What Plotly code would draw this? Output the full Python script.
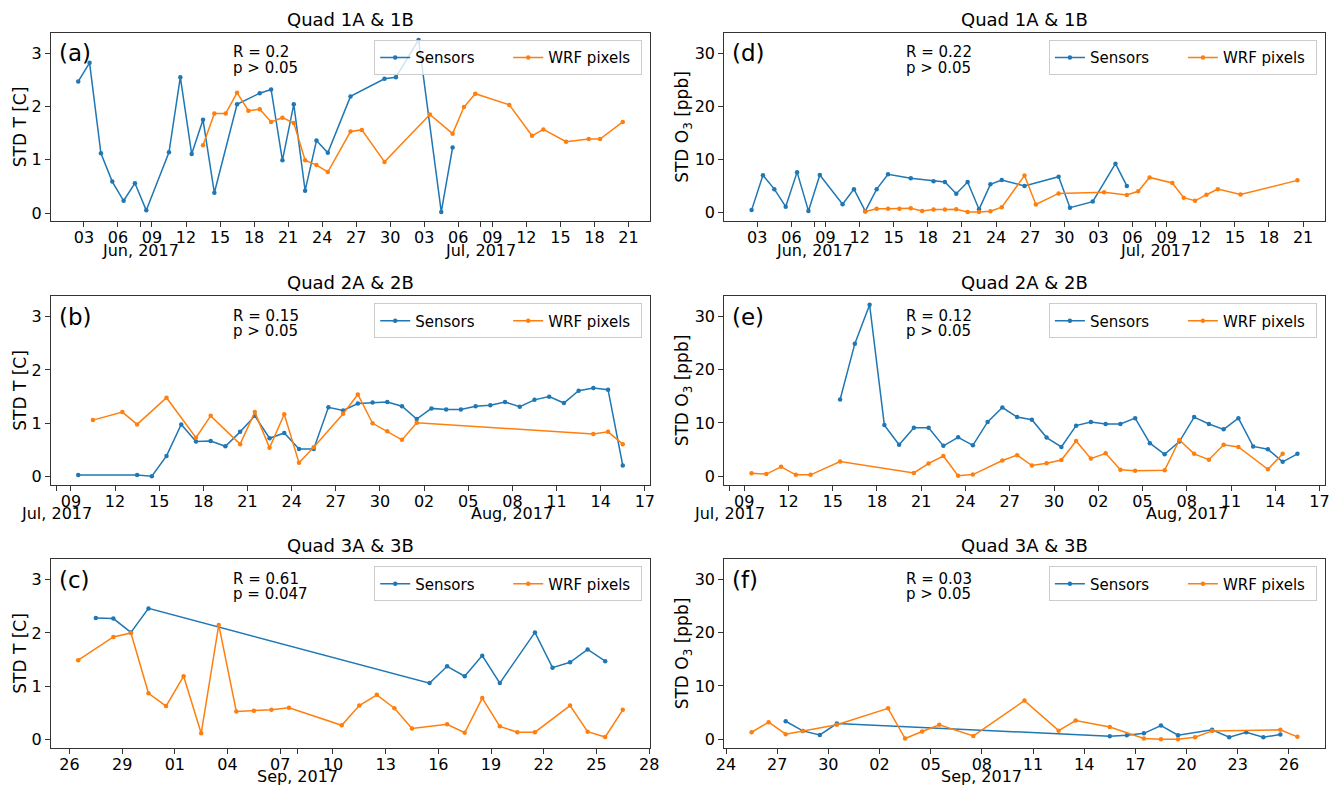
import pandas as pd
import plotly.graph_objects as go

YEAR = 2017

# ---------------- data (daily values, observed at noon) ----------------
# (a) Quad 1A & 1B, STD T [C]
a_sens_days = ["06-02", "06-03", "06-04", "06-05", "06-06", "06-07", "06-08", "06-10", "06-11", "06-12",
               "06-13", "06-14", "06-16", "06-18", "06-19", "06-20", "06-21", "06-22", "06-23", "06-24",
               "06-26", "06-29", "06-30", "07-02", "07-04", "07-05"]
a_sens_vals = [2.47, 2.82, 1.12, 0.59, 0.23, 0.56, 0.05, 1.14, 2.55, 1.11,
               1.75, 0.38, 2.04, 2.25, 2.32, 0.99, 2.04, 0.42, 1.36, 1.13,
               2.19, 2.52, 2.55, 3.25, 0.02, 1.23]
a_wrf_days = ["06-13", "06-14", "06-15", "06-16", "06-17", "06-18", "06-19", "06-20", "06-21", "06-22",
              "06-23", "06-24", "06-26", "06-27", "06-29", "07-03", "07-05", "07-06", "07-07", "07-10",
              "07-12", "07-13", "07-15", "07-17", "07-18", "07-20"]
a_wrf_vals = [1.27, 1.87, 1.87, 2.26, 1.92, 1.95, 1.71, 1.79, 1.69, 0.99,
              0.90, 0.77, 1.53, 1.56, 0.96, 1.85, 1.49, 1.99, 2.24, 2.03,
              1.45, 1.57, 1.34, 1.39, 1.39, 1.71]

# (d) Quad 1A & 1B, STD O3 [ppb]
d_sens_days = a_sens_days
d_sens_vals = [0.45, 7.0, 4.4, 1.1, 7.6, 0.3, 7.05, 1.55, 4.4, 0.25,
               4.4, 7.2, 6.45, 5.9, 5.75, 3.55, 5.75, 0.6, 5.3, 6.1,
               5.0, 6.75, 0.9, 2.05, 9.2, 5.0]
d_wrf_days = ["06-12", "06-13", "06-14", "06-15", "06-16", "06-17", "06-18", "06-19", "06-20", "06-21",
              "06-22", "06-23", "06-24", "06-26", "06-27", "06-29", "07-03", "07-05", "07-06", "07-07",
              "07-09", "07-10", "07-11", "07-12", "07-13", "07-15", "07-20"]
d_wrf_vals = [0.2, 0.7, 0.7, 0.7, 0.8, 0.3, 0.55, 0.55, 0.6, 0.1,
              0.1, 0.25, 1.0, 6.95, 1.5, 3.6, 3.8, 3.3, 4.0, 6.6,
              5.55, 2.8, 2.2, 3.35, 4.4, 3.4, 6.05]

# (b) Quad 2A & 2B, STD T [C]
b_sens_days = ["07-09", "07-13", "07-14", "07-15", "07-16", "07-17", "07-18", "07-19", "07-20", "07-21",
               "07-22", "07-23", "07-24", "07-25", "07-26", "07-27", "07-28", "07-29", "07-30", "07-31",
               "08-01", "08-02", "08-03", "08-04", "08-05", "08-06", "08-07", "08-08", "08-09", "08-10",
               "08-11", "08-12", "08-13", "08-14", "08-15"]
b_sens_vals = [0.03, 0.03, 0.01, 0.39, 0.98, 0.66, 0.67, 0.57, 0.84, 1.14,
               0.72, 0.82, 0.52, 0.52, 1.30, 1.24, 1.37, 1.39, 1.40, 1.32,
               1.08, 1.28, 1.26, 1.26, 1.32, 1.34, 1.40, 1.31, 1.44, 1.50,
               1.38, 1.61, 1.66, 1.63, 0.21]
b_wrf_days = ["07-10", "07-12", "07-13", "07-15", "07-17", "07-18", "07-20", "07-21", "07-22", "07-23",
              "07-24", "07-25", "07-27", "07-28", "07-29", "07-30", "07-31", "08-01", "08-13", "08-14",
              "08-15"]
b_wrf_vals = [1.06, 1.21, 0.98, 1.48, 0.73, 1.14, 0.61, 1.21, 0.54, 1.17,
              0.26, 0.55, 1.18, 1.54, 1.00, 0.85, 0.69, 1.01, 0.80, 0.84,
              0.61]

# (e) Quad 2A & 2B, STD O3 [ppb]
e_sens_days = ["07-15", "07-16", "07-17", "07-18", "07-19", "07-20", "07-21", "07-22", "07-23", "07-24",
               "07-25", "07-26", "07-27", "07-28", "07-29", "07-30", "07-31", "08-01", "08-02", "08-03",
               "08-04", "08-05", "08-06", "08-07", "08-08", "08-09", "08-10", "08-11", "08-12", "08-13",
               "08-14", "08-15"]
e_sens_vals = [14.4, 24.9, 32.2, 9.6, 5.9, 9.1, 9.1, 5.7, 7.3, 5.8,
               10.2, 12.9, 11.1, 10.6, 7.25, 5.5, 9.5, 10.2, 9.8, 9.8,
               10.9, 6.2, 4.1, 6.5, 11.1, 9.8, 8.8, 10.9, 5.6, 5.05,
               2.7, 4.2]
e_wrf_days = ["07-09", "07-10", "07-11", "07-12", "07-13", "07-15", "07-20", "07-21", "07-22", "07-23",
              "07-24", "07-26", "07-27", "07-28", "07-29", "07-30", "07-31", "08-01", "08-02", "08-03",
              "08-04", "08-06", "08-07", "08-08", "08-09", "08-10", "08-11", "08-13", "08-14"]
e_wrf_vals = [0.55, 0.4, 1.75, 0.25, 0.25, 2.75, 0.6, 2.4, 3.8, 0.1,
              0.3, 2.95, 3.95, 2.0, 2.45, 3.05, 6.6, 3.3, 4.3, 1.2,
              1.0, 1.1, 6.8, 4.2, 3.1, 5.9, 5.5, 1.3, 4.2]

# (c) Quad 3A & 3B, STD T [C]
c_sens_days = ["08-27", "08-28", "08-29", "08-30", "09-15", "09-16", "09-17", "09-18", "09-19", "09-21",
               "09-22", "09-23", "09-24", "09-25"]
c_sens_vals = [2.28, 2.27, 2.01, 2.46, 1.06, 1.375, 1.19, 1.575, 1.06, 2.01,
               1.35, 1.45, 1.69, 1.47]
c_wrf_days = ["08-26", "08-28", "08-29", "08-30", "08-31", "09-01", "09-02", "09-03", "09-04", "09-05",
              "09-06", "09-07", "09-10", "09-11", "09-12", "09-13", "09-14", "09-16", "09-17", "09-18",
              "09-19", "09-20", "09-21", "09-23", "09-24", "09-25", "09-26"]
c_wrf_vals = [1.49, 1.925, 2.0, 0.87, 0.63, 1.19, 0.12, 2.15, 0.53, 0.54,
              0.56, 0.60, 0.27, 0.64, 0.84, 0.59, 0.21, 0.29, 0.13, 0.78,
              0.25, 0.14, 0.14, 0.64, 0.15, 0.05, 0.56]

# (f) Quad 3A & 3B, STD O3 [ppb]
f_sens_days = ["08-27", "08-28", "08-29", "08-30", "09-15", "09-16", "09-17", "09-18", "09-19", "09-21",
               "09-22", "09-23", "09-24", "09-25"]
f_sens_vals = [3.37, 1.56, 0.8, 2.94, 0.56, 0.75, 1.1, 2.56, 0.75, 1.75,
               0.37, 1.3, 0.37, 0.87]
f_wrf_days = ["08-25", "08-26", "08-27", "08-28", "08-30", "09-02", "09-03", "09-04", "09-05", "09-07",
              "09-10", "09-12", "09-13", "09-15", "09-17", "09-18", "09-19", "09-20", "09-21", "09-25",
              "09-26"]
f_wrf_vals = [1.3, 3.2, 0.94, 1.56, 2.7, 5.8, 0.12, 1.44, 2.7, 0.62,
              7.25, 1.6, 3.5, 2.3, 0.12, 0.0, 0.0, 0.37, 1.56, 1.75,
              0.44]

# panel texts
panel_labels = ["(a)", "(d)", "(b)", "(e)", "(c)", "(f)"]
panel_titles = ["Quad 1A & 1B", "Quad 1A & 1B", "Quad 2A & 2B", "Quad 2A & 2B", "Quad 3A & 3B", "Quad 3A & 3B"]
r_texts = ["R = 0.2", "R = 0.22", "R = 0.15", "R = 0.12", "R = 0.61", "R = 0.03"]
p_texts = ["p > 0.05", "p > 0.05", "p > 0.05", "p > 0.05", "p = 0.047", "p > 0.05"]
y_titles = ["STD T [C]", "STD O<sub>3</sub> [ppb]"] * 3
y_ticks_T = [0, 1, 2, 3]
y_ticks_O3 = [0, 10, 20, 30]

# x tick spans (every 3 days) and month labels
tick_spans = [("06-03", "07-21"), ("06-03", "07-21"), ("07-09", "08-17"), ("07-09", "08-17"),
              ("08-26", "09-28"), ("08-24", "09-26")]
month_labels = [[("06-08", "Jun, 2017"), ("07-08", "Jul, 2017")],
                [("06-08", "Jun, 2017"), ("07-08", "Jul, 2017")],
                [("07-08", "Jul, 2017"), ("08-08", "Aug, 2017")],
                [("07-08", "Jul, 2017"), ("08-08", "Aug, 2017")],
                [("09-08", "Sep, 2017")],
                [("09-08", "Sep, 2017")]]

series = [
    (a_sens_days, a_sens_vals, a_wrf_days, a_wrf_vals),
    (d_sens_days, d_sens_vals, d_wrf_days, d_wrf_vals),
    (b_sens_days, b_sens_vals, b_wrf_days, b_wrf_vals),
    (e_sens_days, e_sens_vals, e_wrf_days, e_wrf_vals),
    (c_sens_days, c_sens_vals, c_wrf_days, c_wrf_vals),
    (f_sens_days, f_sens_vals, f_wrf_days, f_wrf_vals),
]


def ts(days):
    return [pd.Timestamp(f"{YEAR}-{d} 12:00") for d in days]


# ---------------- layout geometry ----------------
# the html page body has an 8px default margin; the figure is sized and placed to fit the window
OFF = 8
W, H = 1338 - OFF, 787 - OFF


def fx(px):
    return (px - OFF) / W


def fy(py):
    return 1 - (py - OFF) / H


col_x = [(fx(51), fx(650)), (fx(724.3), fx(1324.7))]
row_y = [(fy(221), fy(33)), (fy(484.7), fy(296.3)), (fy(747.7), fy(559.3))]
y_ranges = [[-0.15, 3.38], [-1.6, 33.8]]

BLUE = "#1f77b4"
ORANGE = "#ff7f0e"
FONT = "DejaVu Sans"

fig = go.Figure()
layout = dict(
    width=W, height=H,
    margin=dict(l=0, r=0, t=0, b=0, autoexpand=False),
    paper_bgcolor="white", plot_bgcolor="white",
    font=dict(family=FONT, size=15, color="black"),
    showlegend=True,
)
annotations = []

for i in range(6):
    n = i + 1
    col = i % 2
    row = i // 2
    xs_s, vs_s, xs_w, vs_w = series[i]
    sx, wx = ts(xs_s), ts(xs_w)
    leg = "legend" if n == 1 else f"legend{n}"
    xa = "x" if n == 1 else f"x{n}"
    ya = "y" if n == 1 else f"y{n}"
    fig.add_trace(go.Scatter(x=sx, y=vs_s, mode="lines+markers", name="Sensors",
                             line=dict(color=BLUE, width=1.5), marker=dict(size=4.5, color=BLUE),
                             xaxis=xa, yaxis=ya, legend=leg))
    fig.add_trace(go.Scatter(x=wx, y=vs_w, mode="lines+markers", name="WRF pixels",
                             line=dict(color=ORANGE, width=1.5), marker=dict(size=4.5, color=ORANGE),
                             xaxis=xa, yaxis=ya, legend=leg))

    allx = sx + wx
    xmin, xmax = min(allx), max(allx)
    pad = (xmax - xmin) * 0.05
    xr = [str(xmin - pad), str(xmax + pad)]

    t0, t1 = tick_spans[i]
    minor = list(pd.date_range(f"{YEAR}-{t0}", f"{YEAR}-{t1}", freq="3D"))
    tickvals = list(minor)
    ticktext = [d.strftime("%d") for d in minor]
    for md, _ in month_labels[i]:
        mts = pd.Timestamp(f"{YEAR}-{md}")
        if mts not in minor and (xmin - pad) <= mts <= (xmax + pad):
            tickvals.append(mts)
            ticktext.append(" ")

    axis_common = dict(showgrid=False, zeroline=False, showline=True, mirror=True,
                       linecolor="#333333", linewidth=1.2, ticks="outside", ticklen=5,
                       tickcolor="#333333", tickfont=dict(size=16, family=FONT), automargin=False)
    layout["xaxis" if n == 1 else f"xaxis{n}"] = dict(
        domain=list(col_x[col]), anchor=ya, type="date", range=xr,
        tickmode="array", tickvals=tickvals, ticktext=ticktext, ticklabelstandoff=-3,
        **axis_common)
    layout["yaxis" if n == 1 else f"yaxis{n}"] = dict(
        domain=list(row_y[row]), anchor=xa, range=y_ranges[col],
        tickmode="array", tickvals=y_ticks_T if col == 0 else y_ticks_O3,
        title=dict(text=y_titles[i], font=dict(size=17, family=FONT), standoff=0),
        **axis_common)

    x0, x1 = col_x[col]
    y0, y1 = row_y[row]
    layout[leg] = dict(
        x=x0 + 0.987 * (x1 - x0), y=y0 + 0.962 * (y1 - y0), xanchor="right", yanchor="top",
        orientation="h", bgcolor="rgba(255,255,255,0.8)", bordercolor="#cccccc", borderwidth=1,
        font=dict(size=15, family=FONT), itemwidth=30, tracegroupgap=0,
        entrywidth=88, entrywidthmode="pixels")

    xd = f"{xa} domain"
    yd = f"{ya} domain"
    annotations.append(dict(xref=xd, yref=yd, x=0.5, y=1.005, xanchor="center", yanchor="bottom",
                            text=panel_titles[i], showarrow=False, font=dict(size=18, family=FONT)))
    annotations.append(dict(xref=xd, yref=yd, x=0.3, y=0.955, xanchor="left", yanchor="top",
                            text=r_texts[i], showarrow=False, font=dict(size=15, family=FONT)))
    annotations.append(dict(xref=xd, yref=yd, x=0.3, y=0.875, xanchor="left", yanchor="top",
                            text=p_texts[i], showarrow=False, font=dict(size=15, family=FONT)))
    annotations.append(dict(xref=xd, yref=yd, x=0.01, y=0.972, xanchor="left", yanchor="top",
                            text=panel_labels[i], showarrow=False, font=dict(size=23, family=FONT)))
    for md, lab in month_labels[i]:
        annotations.append(dict(xref=xa, yref=yd, x=pd.Timestamp(f"{YEAR}-{md}"), y=-0.155,
                                xanchor="center", yanchor="middle", text=lab, showarrow=False,
                                font=dict(size=16, family=FONT)))

layout["annotations"] = annotations
fig.update_layout(**layout)
fig.write_html("out.html")
